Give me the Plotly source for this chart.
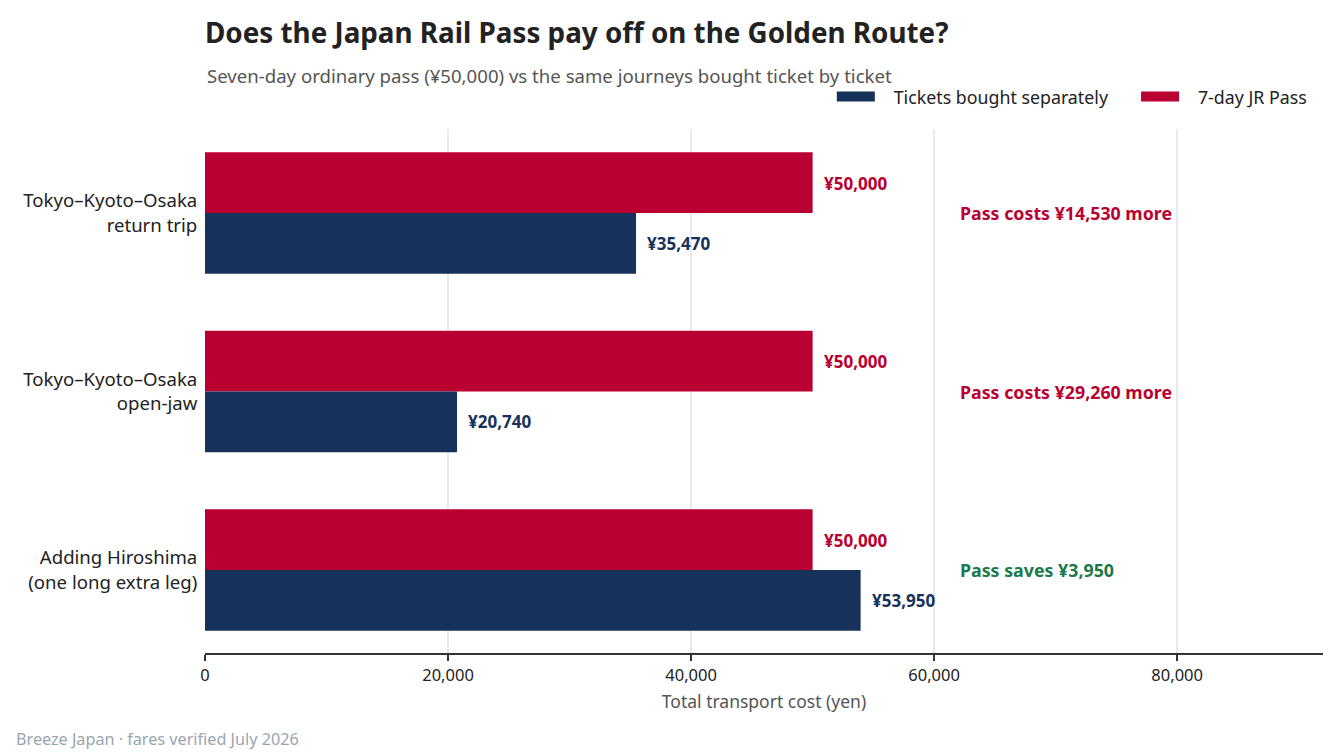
import plotly.graph_objects as go

categories = ["Tokyo–Kyoto–Osaka<br>return trip", "Tokyo–Kyoto–Osaka<br>open-jaw", "Adding Hiroshima<br>(one long extra leg)"]
tickets = [35470, 20740, 53950]
jr_pass = [50000, 50000, 50000]
verdicts = ["Pass costs ¥14,530 more", "Pass costs ¥29,260 more", "Pass saves ¥3,950"]
verdict_colors = ["#BA0030", "#BA0030", "#1A7A4A"]
x_ticks = [0, 20000, 40000, 60000, 80000]

NAVY = "#17325A"
RED = "#BA0030"
FONT = "Segoe UI, Noto Sans, Open Sans, sans-serif"
NB = "\u00a0"

fig = go.Figure()
# reversed y axis: first trace is drawn on top within each group
fig.add_trace(go.Bar(y=categories, x=jr_pass, orientation="h", name="7-day JR Pass",
                     marker=dict(color=RED, line=dict(width=0)), showlegend=False))
fig.add_trace(go.Bar(y=categories, x=tickets, orientation="h", name="Tickets bought separately",
                     marker=dict(color=NAVY, line=dict(width=0)), showlegend=False))
# legend entries as wide swatches
fig.add_trace(go.Scatter(x=[None], y=[None], mode="lines", name=NB * 3 + "Tickets bought separately" + NB * 5,
                         line=dict(color=NAVY, width=14), legendrank=1))
fig.add_trace(go.Scatter(x=[None], y=[None], mode="lines", name=NB * 3 + "7-day JR Pass",
                         line=dict(color=RED, width=14), legendrank=2))

ann = []
for i, c in enumerate(categories):
    ann.append(dict(x=jr_pass[i], y=c, xref="x", yref="y", text=f"<b>¥{jr_pass[i]:,}</b>",
                    showarrow=False, xanchor="left", xshift=9, yshift=30,
                    font=dict(color=RED, size=17, family=FONT)))
    ann.append(dict(x=tickets[i], y=c, xref="x", yref="y", text=f"<b>¥{tickets[i]:,}</b>",
                    showarrow=False, xanchor="left", xshift=9, yshift=-30,
                    font=dict(color=NAVY, size=17, family=FONT)))
    ann.append(dict(x=62000, y=c, xref="x", yref="y", text=f"<b>{verdicts[i]}</b>",
                    showarrow=False, xanchor="left",
                    font=dict(color=verdict_colors[i], size=17.8, family=FONT)))

ann.append(dict(x=0, y=1.103, xref="paper", yref="paper", xanchor="left", yanchor="middle",
                text="Seven-day ordinary pass (¥50,000) vs the same journeys bought ticket by ticket",
                showarrow=False, font=dict(size=18.6, color="#555555", family=FONT)))
ann.append(dict(x=-0.171, y=-0.164, xref="paper", yref="paper", xanchor="left", yanchor="middle",
                text="Breeze Japan · fares verified July 2026",
                showarrow=False, font=dict(size=16.2, color="#9AA5B1", family=FONT)))

fig.update_layout(
    width=1344, height=756,
    margin=dict(l=205, r=21, t=129, b=103),
    paper_bgcolor="white", plot_bgcolor="white",
    font=dict(family=FONT, color="#222222"),
    barmode="group", bargap=0.32, bargroupgap=0,
    title=dict(text="<b>Does the Japan Rail Pass pay off on the Golden Route?</b>",
               x=205/1344, xref="container", xanchor="left", y=1-33/756, yanchor="middle",
               font=dict(size=27.8, color="#222222", family=FONT)),
    legend=dict(orientation="h", x=0.99, xanchor="right", y=1.061, yanchor="middle",
                font=dict(size=17.8, color="#222222"), itemwidth=38),
    annotations=ann,
    xaxis=dict(range=[0, 92000], tickvals=x_ticks, tickformat=",", showgrid=True,
               gridcolor="#E6EAF0", gridwidth=1.5, zeroline=False,
               showline=True, linecolor="#333333", linewidth=2,
               ticks="outside", ticklen=6, tickwidth=2, tickcolor="#333333",
               tickfont=dict(size=16.5, color="#222222"),
               title=dict(text="Total transport cost (yen)", font=dict(size=17.5, color="#555555"), standoff=11)),
    yaxis=dict(categoryorder="array", categoryarray=categories, range=[2.465, -0.4706],
               showgrid=False, zeroline=False, showline=False,
               ticks="outside", ticklen=3, tickcolor="rgba(0,0,0,0)",
               tickfont=dict(size=18.6, color="#222222")),
)

fig.write_html("out.html")
